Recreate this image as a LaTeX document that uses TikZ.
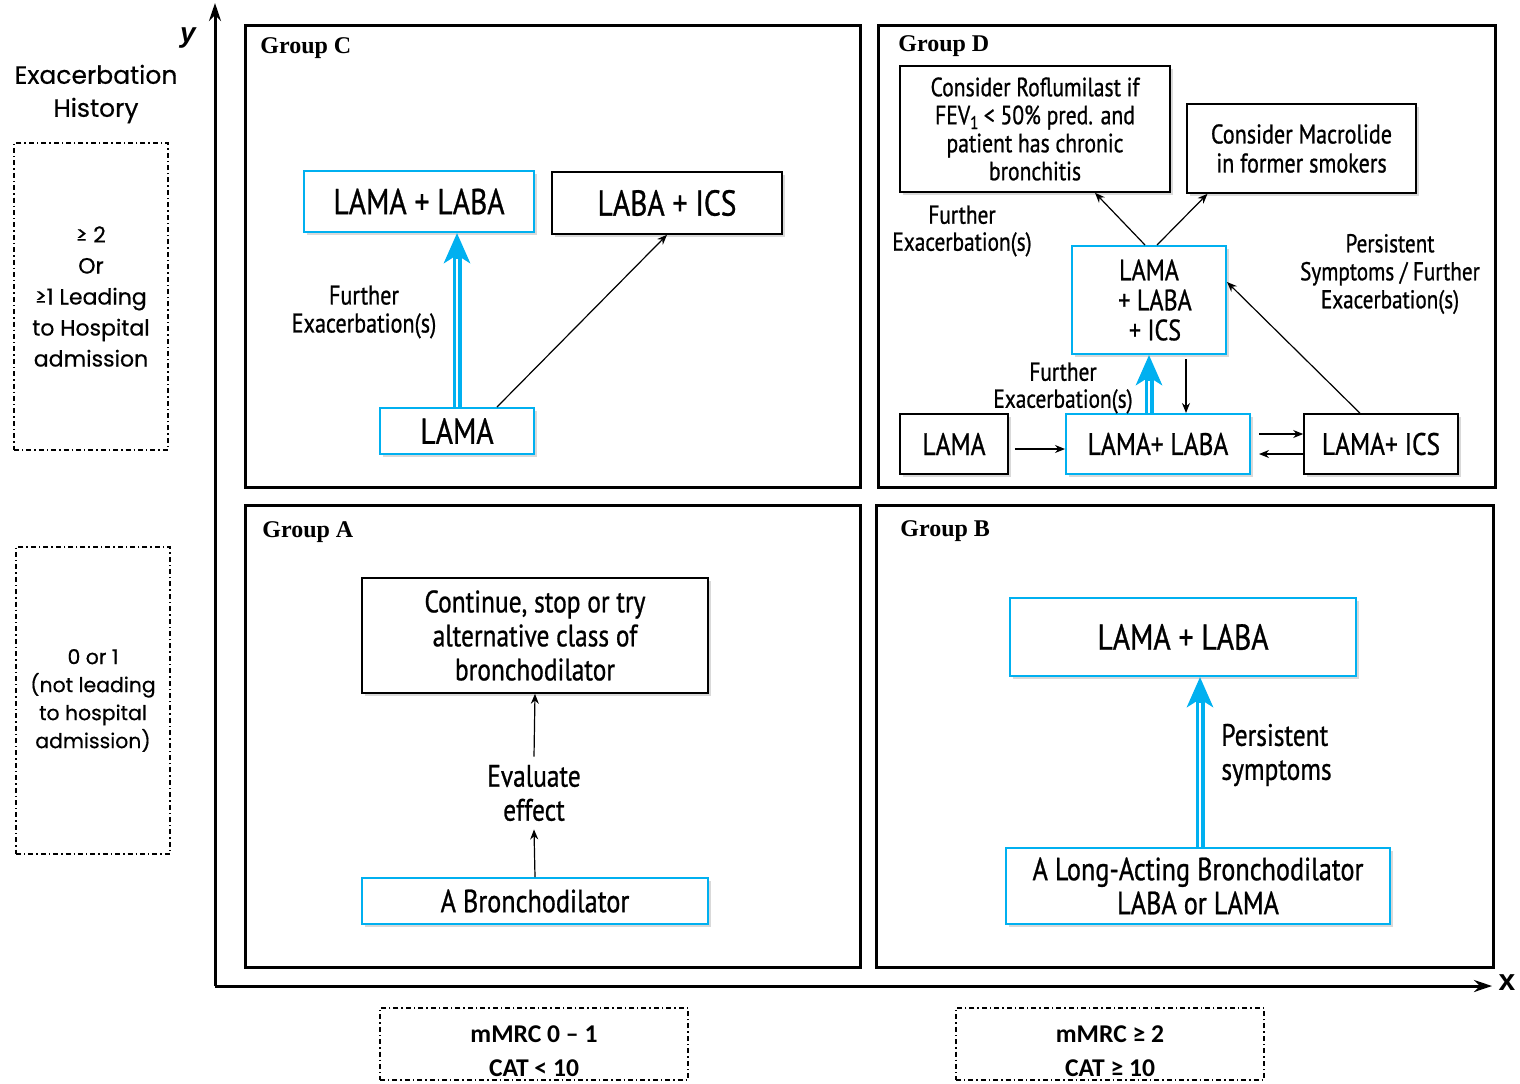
\documentclass[tikz,border=0pt]{standalone}
\usepackage{fontspec}
\setmainfont{Liberation Serif}
\newfontfamily\cond[FakeStretch=0.82,FakeBold=0.8]{PT Sans}
\newfontfamily\gothic[FakeBold=0.5]{Poppins}
\newfontfamily\calib{Carlito}
\newfontfamily\lsans{Liberation Sans}
\usetikzlibrary{arrows.meta,shadows}
\definecolor{cy}{RGB}{0,176,240}
\newcommand\dblarr[2]{%
  \draw[cy, line width=4.5pt, -{Stealth[length=15pt,width=13pt,inset=4pt]}] (#1) -- (#2);
  \draw[white, line width=1.4pt, shorten >=13pt] (#1) -- (#2);}
\begin{document}
\begin{tikzpicture}[x=0.5pt,y=-0.5pt,
  grp/.style={draw, line width=1.5pt},
  shad/.style={drop shadow={shadow xshift=1.5pt,shadow yshift=-1.5pt,opacity=0.3,fill=gray}},
  bbox/.style={draw=cy, line width=1pt, fill=white, shad, align=center, inner sep=0pt, font=\cond},
  kbox/.style={draw=black, line width=0.8pt, fill=white, shad, align=center, inner sep=0pt, font=\cond},
  ddbox/.style={draw, line width=0.6pt, dash pattern=on 2.5pt off 1.5pt on 0.7pt off 1.5pt, align=center, inner sep=0pt},
  glabel/.style={anchor=west, font=\bfseries\fontsize{12}{14}\selectfont, inner sep=0pt},
  note/.style={align=center, inner sep=2pt},
  thin/.style={line width=0.6pt, -{Stealth[length=5pt,width=4pt]}},
  axis/.style={line width=1.5pt, -{Stealth[length=9pt,width=6pt]}}
]
\useasboundingbox (0,0) rectangle (1520,1083);

% axes
\coordinate (O) at (215,986);
\coordinate (ytop) at (215,3);
\coordinate (xend) at (1492,986);
\draw[axis] (O) -- (ytop);
\draw[axis] (O) -- (xend);
\node[font=\lsans\bfseries\itshape\fontsize{14}{14}\selectfont] (ylab) at (188,38) {y};
\node[font=\lsans\bfseries\fontsize{15}{15}\selectfont] (xlab) at (1507,983) {x};

% left labels
\node[note, font=\gothic\fontsize{12.5}{16.5}\selectfont] (exh) at (96,94) {Exacerbation\\History};
\node[ddbox, minimum width=77pt, minimum height=153.5pt, font=\gothic\fontsize{11}{15.5}\selectfont] (hi) at (91,296.5)
  {≥ 2\\Or\\≥1 Leading\\to Hospital\\admission};
\node[ddbox, minimum width=77pt, minimum height=153.5pt, font=\gothic\fontsize{10.2}{14}\selectfont] (lo) at (93,700.5)
  {0 or 1\\(not leading\\to hospital\\admission)};

% bottom labels
\node[ddbox, minimum width=154pt, minimum height=36pt, font=\calib\bfseries\fontsize{12.8}{17}\selectfont] (sl) at (534,1044)
  {\rule{0pt}{16pt}mMRC 0 – 1\\CAT < 10};
\node[ddbox, minimum width=154pt, minimum height=36pt, font=\calib\bfseries\fontsize{12.8}{17}\selectfont] (sr) at (1110,1044)
  {\rule{0pt}{16pt}mMRC ≥ 2\\CAT ≥ 10};

% group frames
\draw[grp] (245,25) rectangle (860,487);
\draw[grp] (878,25) rectangle (1495,487);
\draw[grp] (245,505) rectangle (860,967);
\draw[grp] (876,505) rectangle (1493,967);
\node[glabel] (gc) at (260,48) {Group C};
\node[glabel] (gd) at (898,46) {Group D};
\node[glabel] (ga) at (262,532) {Group A};
\node[glabel] (gb) at (900,531) {Group B};

% ---------- Group C
\node[bbox, minimum width=115pt, minimum height=30.5pt, font=\cond\fontsize{18}{20}\selectfont] (cll) at (419,201.5) {LAMA + LABA};
\node[kbox, minimum width=115pt, minimum height=31pt, font=\cond\fontsize{18}{20}\selectfont] (cli) at (667,203) {LABA + ICS};
\node[bbox, minimum width=77pt, minimum height=23pt, font=\cond\fontsize{18}{20}\selectfont] (cla) at (457,431) {LAMA};
\node[note, font=\cond\fontsize{13.5}{14}\selectfont] (cfe) at (364,312) {Further\\Exacerbation(s)};
\coordinate (cdst) at (cla.north |- cll.south);
\dblarr{cla.north}{cdst}
\draw[thin] ([xshift=20pt]cla.north) -- (cli.south);

% ---------- Group D
\node[kbox, minimum width=135pt, minimum height=63pt, font=\cond\fontsize{13.2}{14}\selectfont] (rof) at (1035,129)
  {Consider Roflumilast if\\FEV\textsubscript{1}\,< 50\% pred. and\\patient has chronic\\bronchitis};
\node[kbox, minimum width=114.5pt, minimum height=44.5pt, font=\cond\fontsize{13.5}{14.5}\selectfont] (mac) at (1301.5,148.5)
  {Consider Macrolide\\in former smokers};
\node[note, font=\cond\fontsize{13}{13.5}\selectfont] (dfe1) at (962,231) {Further\\Exacerbation(s)};
\node[bbox, minimum width=77pt, minimum height=54pt, font=\cond\fontsize{14.7}{15}\selectfont] (dtri) at (1149,300)
  {LAMA\\\hspace*{6pt}+ LABA\\\hspace*{6pt}+ ICS};
\node[note, font=\cond\fontsize{12.9}{14}\selectfont] (dps) at (1390,274) {Persistent\\Symptoms / Further\\Exacerbation(s)};
\node[kbox, minimum width=54pt, minimum height=30pt, font=\cond\fontsize{15.5}{16}\selectfont] (dla) at (954,444) {LAMA};
\node[bbox, minimum width=92pt, minimum height=30pt, font=\cond\fontsize{15.5}{16}\selectfont] (dlab) at (1158,444) {LAMA+ LABA};
\node[kbox, minimum width=77pt, minimum height=30pt, font=\cond\fontsize{15.5}{16}\selectfont] (dics) at (1381,444) {LAMA+ ICS};
\node[note, font=\cond\fontsize{13}{13.5}\selectfont] (dfe2) at (1063,388) {Further\\Exacerbation(s)};

\draw[thin] ([xshift=-2pt]dtri.north) -- ([xshift=30pt]rof.south);
\draw[thin] ([xshift=4pt]dtri.north) -- ([xshift=-47pt]mac.south);
\draw[thin] ([xshift=-10.5pt]dics.north) -- ([yshift=9pt]dtri.east);
\draw[thin] ([shift={(3pt,-2.5pt)}]dla.east) -- ([yshift=-2.5pt]dlab.west);
\draw[thin] ([shift={(4pt,5pt)}]dlab.east) -- ([yshift=5pt]dics.west);
\draw[thin] ([yshift=-5pt]dics.west) -- ([shift={(4pt,-5pt)}]dlab.east);
\draw[thin] ([shift={(18.5pt,-2pt)}]dtri.south) -- ([xshift=18.5pt]dtri.south |- dlab.north);
\coordinate (dsrc) at (dtri.south |- dlab.north);
\dblarr{dsrc}{dtri.south}

% ---------- Group A
\node[kbox, minimum width=173pt, minimum height=57.5pt, font=\cond\fontsize{15.5}{17}\selectfont] (cont) at (535,635.5)
  {Continue, stop or try\\alternative class of\\bronchodilator};
\node[note, inner sep=4pt, font=\cond\fontsize{15.5}{17}\selectfont] (eval) at (534,793) {Evaluate\\effect};
\node[bbox, minimum width=173pt, minimum height=23pt, font=\cond\fontsize{16}{16}\selectfont] (abr) at (535,901) {A Bronchodilator};
\draw[thin] (abr.north) -- (eval.south);
\draw[thin] (eval.north) -- (cont.south);

% ---------- Group B
\node[bbox, minimum width=173pt, minimum height=39pt, font=\cond\fontsize{18}{18}\selectfont] (bll) at (1183,637) {LAMA + LABA};
\node[bbox, minimum width=192pt, minimum height=38pt, font=\cond\fontsize{16}{17}\selectfont] (blong) at (1198,886)
  {A Long-Acting Bronchodilator\\LABA or LAMA};
\node[note, anchor=west, align=left, inner sep=0pt, font=\cond\fontsize{15.5}{17}\selectfont] (bps) at (1221,755) {Persistent\\symptoms};
\coordinate (bsrc) at ([xshift=1pt]blong.north);
\coordinate (bdst) at ([xshift=1pt]blong.north |- bll.south);
\dblarr{bsrc}{bdst}
\end{tikzpicture}
\end{document}
